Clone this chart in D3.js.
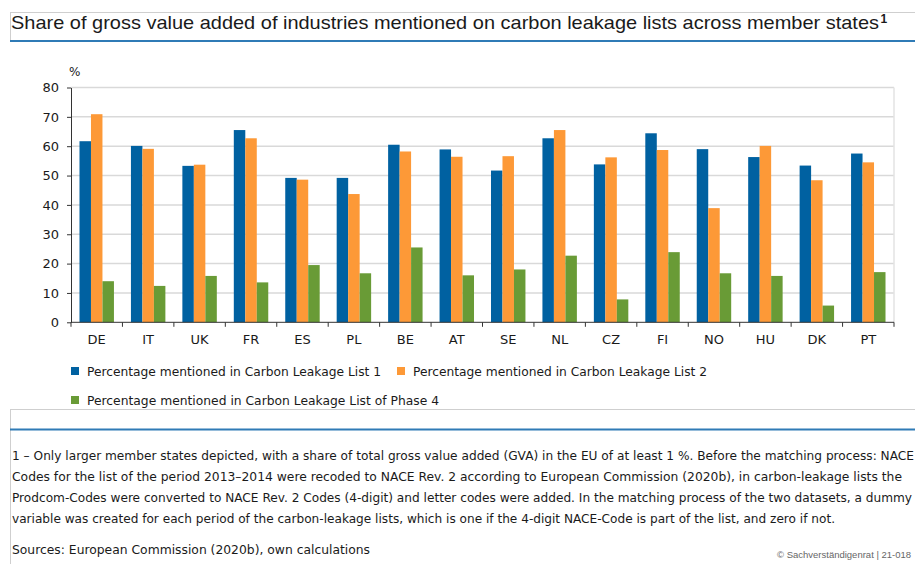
<!DOCTYPE html>
<html>
<head>
<meta charset="utf-8">
<script src="https://cdn.jsdelivr.net/npm/d3@7/dist/d3.min.js"></script>
<style>
  html, body { margin: 0; padding: 0; background: #fff; }
  svg { display: block; }
  text { font-family: "DejaVu Sans", Verdana, sans-serif; fill: #1a1a1a; }
</style>
</head>
<body>
<script>
// Member states shown on the x axis
const countries = ["DE", "IT", "UK", "FR", "ES", "PL", "BE", "AT", "SE", "NL", "CZ", "FI", "NO", "HU", "DK", "PT"];

// Share of gross value added (%) per list
const list1  = [61.7, 60.1, 53.3, 65.5, 49.2, 49.2, 60.5, 58.9, 51.7, 62.7, 53.8, 64.4, 59.0, 56.3, 53.4, 57.5];
const list2  = [70.9, 59.1, 53.7, 62.7, 48.6, 43.7, 58.2, 56.4, 56.6, 65.5, 56.2, 58.7, 38.9, 60.1, 48.4, 54.5];
const phase4 = [14.0, 12.4, 15.8, 13.6, 19.5, 16.7, 25.5, 16.0, 18.0, 22.7, 7.8, 23.9, 16.7, 15.8, 5.7, 17.1];

const seriesNames = [
  "Percentage mentioned in Carbon Leakage List 1",
  "Percentage mentioned in Carbon Leakage List 2",
  "Percentage mentioned in Carbon Leakage List of Phase 4"
];
const seriesValues = [list1, list2, phase4];
const seriesColors = ["#0061a1", "#fd9937", "#699b36"];

const yTicks = [0, 10, 20, 30, 40, 50, 60, 70, 80];

const titleText = "Share of gross value added of industries mentioned on carbon leakage lists across member states";
const footnoteLines = [
  "1 \u2013 Only larger member states depicted, with a share of total gross value added (GVA) in the EU of at least 1 %.  Before the matching process: NACE",
  "Codes for the list of the period 2013\u20132014 were recoded to NACE Rev. 2 according to European Commission (2020b), in carbon-leakage lists the",
  "Prodcom-Codes were converted to NACE Rev. 2 Codes (4-digit) and letter codes were added. In the matching process of the two datasets, a dummy",
  "variable was created for each period of the carbon-leakage lists, which is one if the 4-digit NACE-Code is part of the list, and zero if not."
];
const sourceText = "Sources: European Commission (2020b), own calculations";
const creditText = "\u00a9 Sachverst\u00e4ndigenrat | 21-018";

const W = 915, H = 564;
const svg = d3.select("body").append("svg").attr("width", W).attr("height", H);

// ---- title box ----
svg.append("line").attr("x1", 10).attr("x2", W).attr("y1", 12.5).attr("y2", 12.5)
  .attr("stroke", "#cfcfcf").attr("stroke-width", 1);
svg.append("line").attr("x1", 10.5).attr("x2", 10.5).attr("y1", 12).attr("y2", 41)
  .attr("stroke", "#cfcfcf").attr("stroke-width", 1);
svg.append("line").attr("x1", 10).attr("x2", W).attr("y1", 41).attr("y2", 41)
  .attr("stroke", "#2f7bb6").attr("stroke-width", 2);

svg.append("text")
  .attr("x", 11).attr("y", 29)
  .style("font-family", "'Liberation Sans', Arial, sans-serif")
  .attr("font-size", 19)
  .attr("textLength", 868).attr("lengthAdjust", "spacingAndGlyphs")
  .text(titleText);
svg.append("text")
  .attr("x", 880.5).attr("y", 23)
  .style("font-family", "'Liberation Sans', Arial, sans-serif")
  .attr("font-size", 12).attr("font-weight", "bold")
  .text("1");

// ---- chart ----
const plot = { left: 71, right: 894, top: 87.5, bottom: 322.3 };

const x0 = d3.scaleBand().domain(countries).range([plot.left, plot.right]).padding(0);
const x1 = d3.scaleBand().domain(d3.range(seriesValues.length))
  .range([0, x0.bandwidth()]).paddingInner(0).paddingOuter(0.74);
const y = d3.scaleLinear().domain([0, 80]).range([plot.bottom, plot.top]);

// gridlines
svg.append("g").selectAll("line").data(yTicks.filter(d => d > 0)).join("line")
  .attr("x1", plot.left).attr("x2", plot.right)
  .attr("y1", d => y(d)).attr("y2", d => y(d))
  .attr("stroke", "#d9d9d9").attr("stroke-width", 1.5);
// right border of plot area
svg.append("line").attr("x1", plot.right).attr("x2", plot.right)
  .attr("y1", plot.top).attr("y2", plot.bottom)
  .attr("stroke", "#e3e3e3").attr("stroke-width", 1.5);

// bars
const groups = svg.append("g").selectAll("g").data(countries).join("g")
  .attr("transform", d => `translate(${x0(d)},0)`);
groups.selectAll("rect")
  .data((c, i) => seriesValues.map((vals, s) => ({ s, v: vals[i] })))
  .join("rect")
  .attr("x", d => x1(d.s))
  .attr("width", x1.bandwidth())
  .attr("y", d => y(d.v))
  .attr("height", d => y(0) - y(d.v))
  .attr("fill", d => seriesColors[d.s]);

// y axis
const yAxis = svg.append("g").attr("transform", `translate(${plot.left},0)`)
  .call(d3.axisLeft(y).tickValues(yTicks).tickSize(4).tickSizeOuter(0).tickPadding(8));
yAxis.select(".domain").attr("stroke", "#333");
yAxis.selectAll(".tick line").attr("stroke", "#333");
yAxis.selectAll("text").attr("font-size", 13).attr("fill", "#1a1a1a")
  .style("font-family", "'DejaVu Sans', Verdana, sans-serif");

svg.append("text").attr("x", 69).attr("y", 76).attr("font-size", 12).text("%");

// x axis: ticks at category boundaries, labels centred
const xAxis = svg.append("g").attr("transform", `translate(0,${plot.bottom})`);
xAxis.append("line").attr("x1", plot.left).attr("x2", plot.right)
  .attr("y1", 0).attr("y2", 0).attr("stroke", "#333");
const boundaries = countries.map(c => x0(c)).concat([plot.right]);
xAxis.selectAll("line.tk").data(boundaries).join("line").attr("class", "tk")
  .attr("x1", d => d).attr("x2", d => d).attr("y1", 0).attr("y2", 4.5)
  .attr("stroke", "#333");
xAxis.selectAll("text").data(countries).join("text")
  .attr("x", d => x0(d) + x0.bandwidth() / 2)
  .attr("y", 22)
  .attr("text-anchor", "middle")
  .attr("font-size", 13)
  .text(d => d);

// ---- legend ----
const legendItems = [
  { x: 71, y: 371, len: 294 },
  { x: 397, y: 371, len: 294 },
  { x: 71, y: 400, len: 352 }
];
const lg = svg.append("g").selectAll("g").data(seriesNames).join("g")
  .attr("transform", (d, i) => `translate(${legendItems[i].x},${legendItems[i].y})`);
lg.append("rect").attr("x", 0).attr("y", -4).attr("width", 8).attr("height", 8)
  .attr("fill", (d, i) => seriesColors[i]);
lg.append("text").attr("x", 16).attr("y", 4.5).attr("font-size", 12)
  .attr("textLength", (d, i) => legendItems[i].len).attr("lengthAdjust", "spacingAndGlyphs")
  .text(d => d);

// ---- notes box ----
svg.append("line").attr("x1", 10).attr("x2", W).attr("y1", 409.5).attr("y2", 409.5)
  .attr("stroke", "#cfcfcf").attr("stroke-width", 1);
svg.append("line").attr("x1", 10.5).attr("x2", 10.5).attr("y1", 409).attr("y2", H)
  .attr("stroke", "#cfcfcf").attr("stroke-width", 1);
svg.append("line").attr("x1", 10).attr("x2", W).attr("y1", 429.5).attr("y2", 429.5)
  .attr("stroke", "#2f7bb6").attr("stroke-width", 2);

const footLens = [902, 890, 900, 823];
svg.append("g").selectAll("text").data(footnoteLines).join("text")
  .attr("x", 12).attr("y", (d, i) => 460 + i * 21)
  .attr("font-size", 12)
  .attr("textLength", (d, i) => footLens[i]).attr("lengthAdjust", "spacingAndGlyphs")
  .text(d => d);

svg.append("text").attr("x", 12).attr("y", 554).attr("font-size", 12)
  .attr("textLength", 358).attr("lengthAdjust", "spacingAndGlyphs")
  .text(sourceText);

// credit line in a narrower face so it sits inside the page edges
svg.append("text").attr("x", 777).attr("y", 558)
  .style("font-family", "'Liberation Sans', Arial, sans-serif")
  .attr("font-size", 9.5)
  .style("fill", "#666")
  .text(creditText);
</script>
</body>
</html>
